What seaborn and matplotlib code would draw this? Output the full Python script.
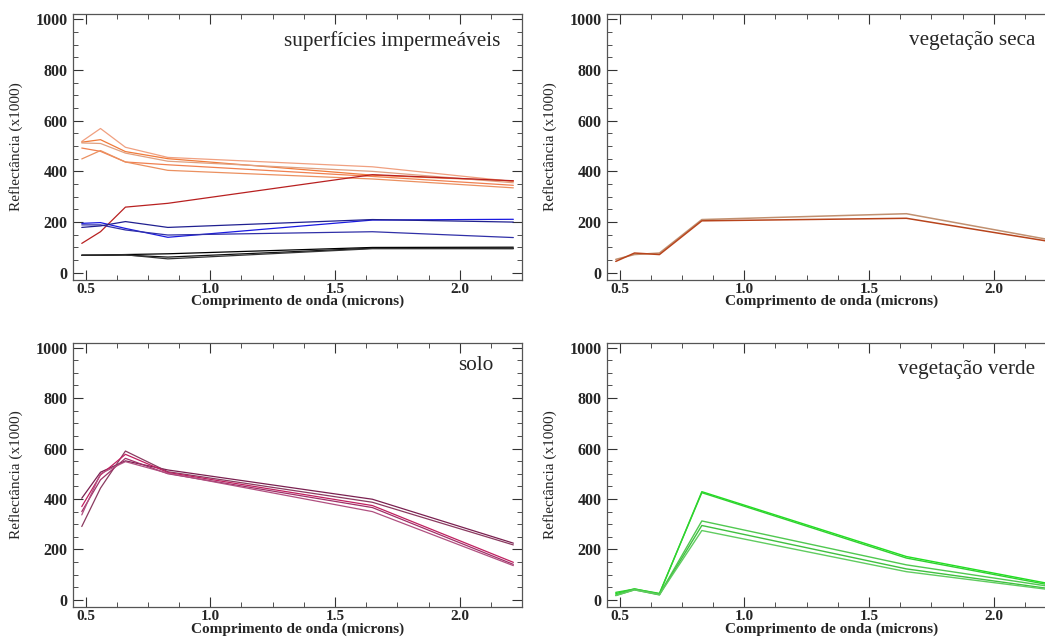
import numpy as np
import pandas as pd
import matplotlib
matplotlib.use("Agg")
import matplotlib.pyplot as plt
import seaborn as sns
from matplotlib.ticker import MultipleLocator

# Landsat TM band centres (microns)
wavelengths = [0.485, 0.56, 0.66, 0.83, 1.65, 2.215]

# superficies impermeaveis
imperv_orange = [
    [518, 569, 495, 455, 418, 360],
    [515, 525, 478, 450, 385, 362],
    [512, 510, 472, 440, 400, 355],
    [492, 479, 437, 426, 380, 345],
    [449, 482, 437, 404, 370, 335],
]
imperv_red = [116, 162, 259, 274, 387, 363]
imperv_blue = [
    [195, 198, 175, 140, 208, 211],
    [189, 189, 169, 149, 162, 139],
    [179, 185, 202, 179, 210, 200],
]
imperv_black = [
    [69, 70, 72, 75, 100, 101],
    [69, 69, 70, 62, 97, 96],
    [70, 70, 71, 55, 95, 95],
]

# vegetacao seca
dry_veg = [
    [53, 72, 78, 210, 233, 132],
    [45, 78, 72, 205, 215, 125],
]

# solo
soil = [
    [403, 506, 551, 515, 399, 225],
    [291, 443, 590, 508, 387, 218],
    [370, 495, 577, 505, 374, 149],
    [350, 476, 561, 500, 366, 141],
    [337, 500, 548, 502, 350, 136],
]

# vegetacao verde
green_veg = [
    [25, 44, 24, 429, 172, 66],
    [30, 43, 26, 425, 166, 61],
    [20, 42, 22, 313, 139, 55],
    [18, 40, 20, 295, 123, 46],
    [17, 40, 21, 275, 112, 42],
]

panel_titles = ["superfícies impermeáveis", "vegetação seca", "solo", "vegetação verde"]
x_ticks = [0.5, 1.0, 1.5, 2.0]
x_tick_labels = ["0.5", "1.0", "1.5", "2.0"]
y_ticks = [0, 200, 400, 600, 800, 1000]
y_tick_labels = ["0", "200", "400", "600", "800", "1000"]

sns.set_style("ticks")
plt.rcParams["font.family"] = ["Liberation Serif", "DejaVu Serif"]

fig = plt.figure(figsize=(10.45, 6.42), dpi=100)
ax_w = 0.4297
axes = [
    fig.add_axes([0.0699, 0.564, ax_w, 0.414]),
    fig.add_axes([0.5809, 0.564, ax_w, 0.414]),
    fig.add_axes([0.0699, 0.0545, ax_w, 0.412]),
    fig.add_axes([0.5809, 0.0545, ax_w, 0.412]),
]


def draw(ax, series, colors, lw=0.9):
    for vals, c in zip(series, colors):
        sns.lineplot(x=wavelengths, y=vals, color=c, lw=lw, ax=ax,
                     estimator=None, sort=False)


def style(ax, title, tx, ty):
    ax.set_xlim(0.45, 2.25)
    ax.set_ylim(-28, 1020)
    ax.set_xticks(x_ticks, labels=x_tick_labels, fontweight="bold", fontsize=11)
    ax.set_yticks(y_ticks, labels=y_tick_labels, fontweight="bold", fontsize=11.5)
    ax.xaxis.set_minor_locator(MultipleLocator(0.125))
    ax.yaxis.set_minor_locator(MultipleLocator(50))
    ax.tick_params(which="both", direction="in", top=True, right=True, color="#333333")
    ax.tick_params(which="major", length=7, width=0.8)
    ax.tick_params(axis="x", which="major", pad=2)
    ax.tick_params(axis="y", which="major", pad=4)
    ax.tick_params(which="minor", length=3.5, width=0.6)
    for s in ax.spines.values():
        s.set_color("#555555")
        s.set_linewidth(0.9)
    ax.set_xlabel("Comprimento de onda (microns)", fontweight="bold", fontsize=11, labelpad=-0.5)
    ax.set_ylabel("Reflectância (x1000)", fontsize=11, labelpad=9)
    ax.text(tx, ty, title, transform=ax.transAxes, ha="right", va="top", fontsize=15.2)


draw(axes[0], imperv_orange, ["#f0a080", "#f07a3a", "#e0a080", "#f08050", "#eb9060"])
draw(axes[0], [imperv_red], ["#b82020"])
draw(axes[0], imperv_blue, ["#1a1ae0", "#3030a8", "#202090"])
draw(axes[0], imperv_black, ["black", "#111111", "#333333"])
style(axes[0], panel_titles[0], 0.951, 0.935)

draw(axes[1], dry_veg, ["#c09070", "#b8441c"], lw=1.1)
style(axes[1], panel_titles[1], 0.953, 0.935)

draw(axes[2], soil, ["#7a2050", "#8a3a60", "#c02060", "#a03068", "#b05080"])
style(axes[2], panel_titles[2], 0.935, 0.95)

draw(axes[3], green_veg, ["#20e020", "#30d030", "#50c850", "#40c040", "#60cc60"], lw=1.0)
style(axes[3], panel_titles[3], 0.953, 0.933)

fig.savefig("out.png", dpi=100)
